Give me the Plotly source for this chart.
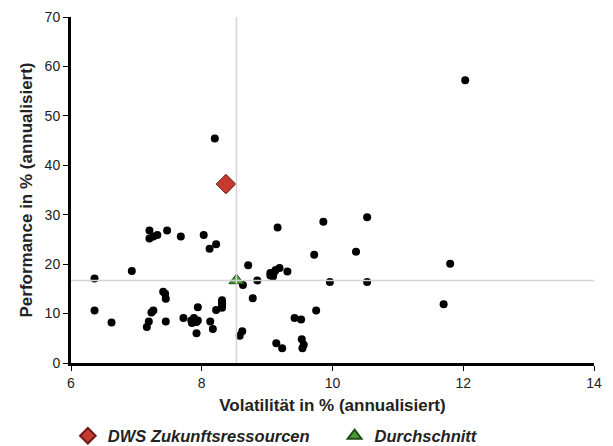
import plotly.graph_objects as go

# Peer funds: volatility (x) and performance (y)
peer_vol = [12.03, 8.20, 10.53, 9.86, 9.16, 7.20, 7.47, 7.20, 7.26, 7.32, 7.68, 8.03, 8.22, 8.12,
            10.36, 9.72, 11.80, 8.71, 6.93, 9.31, 9.19, 9.13, 9.05, 9.05, 9.09, 9.11, 6.36, 8.85,
            9.96, 10.53, 8.63, 7.41, 7.44, 7.45, 8.78, 8.31, 8.31, 8.31, 8.31, 8.22, 7.94, 6.36,
            7.26, 7.23, 9.75, 11.70, 9.42, 9.52, 7.72, 7.88, 7.84, 7.94, 7.85, 7.92, 7.19, 7.45,
            8.13, 6.62, 7.16, 8.17, 7.92, 8.62, 8.58, 9.53, 9.56, 9.54, 9.14, 9.23]
peer_perf = [57.2, 45.4, 29.5, 28.6, 27.4, 26.8, 26.8, 25.2, 25.6, 25.9, 25.6, 25.9, 24.0, 23.1,
             22.5, 21.9, 20.1, 19.8, 18.6, 18.5, 19.2, 18.8, 18.2, 17.7, 17.5, 18.4, 17.1, 16.7,
             16.4, 16.4, 15.8, 14.4, 14.0, 13.0, 13.1, 12.7, 12.1, 11.6, 11.2, 10.7, 11.3, 10.6,
             10.6, 10.2, 10.6, 11.9, 9.1, 8.8, 9.1, 9.1, 8.6, 8.6, 8.1, 8.3, 8.4, 8.4,
             8.4, 8.2, 7.3, 6.9, 6.0, 6.4, 5.5, 4.8, 3.7, 3.0, 4.0, 3.0]

fund_name = "DWS Zukunftsressourcen"
fund_vol = [8.37]
fund_perf = [36.2]

avg_name = "Durchschnitt"
avg_vol = [8.53]
avg_perf = [16.7]

x_range = [6, 14]
y_range = [0, 70]
x_ticks = [6, 8, 10, 12, 14]
y_ticks = [0, 10, 20, 30, 40, 50, 60, 70]

fig = go.Figure()
fig.add_trace(go.Scatter(x=peer_vol, y=peer_perf, mode="markers", showlegend=False,
                         marker=dict(color="black", size=8, line=dict(width=0)),
                         hoverinfo="x+y"))
fig.add_trace(go.Scatter(x=fund_vol, y=fund_perf, mode="markers", name=fund_name,
                         legend="legend",
                         marker=dict(symbol="diamond", color="#c63a32", size=15,
                                     line=dict(color="#6e1a16", width=1))))
fig.add_trace(go.Scatter(x=avg_vol, y=avg_perf, mode="markers", name=avg_name,
                         legend="legend2",
                         marker=dict(symbol="triangle-up", color="#4e9a36", size=13,
                                     line=dict(color="#1f4a16", width=1))))

# average cross lines (drawn over the markers, as in the reference)
fig.add_shape(type="line", xref="x", yref="paper", x0=avg_vol[0], x1=avg_vol[0], y0=0, y1=1,
              line=dict(color="#d4d4d4", width=1.5), layer="above")
fig.add_shape(type="line", xref="paper", yref="y", x0=0, x1=1, y0=avg_perf[0], y1=avg_perf[0],
              line=dict(color="#d4d4d4", width=1.5), layer="above")

font_family = "Liberation Sans, Arial, sans-serif"
legend_font = dict(size=16.5, style="italic", weight="bold", color="#222")
legend_common = dict(orientation="h", xanchor="left", y=-0.211, yanchor="middle",
                     font=legend_font, itemsizing="constant", bgcolor="rgba(0,0,0,0)",
                     borderwidth=0)
fig.update_layout(
    width=605, height=438,
    margin=dict(l=63, r=19, t=9, b=83, autoexpand=False),
    plot_bgcolor="white", paper_bgcolor="white",
    font=dict(family=font_family, size=14, color="#222"),
    legend=dict(x=-0.006, **legend_common),
    legend2=dict(x=0.504, **legend_common),
    xaxis=dict(range=x_range, tickvals=x_ticks, showgrid=False, zeroline=False,
               automargin=False,
               showline=True, linecolor="black", linewidth=3, ticks="outside",
               ticklen=5, tickcolor="black", tickfont=dict(size=14, color="#222"),
               title=dict(text="Volatilität in % (annualisiert)",
                          font=dict(size=17, weight="bold", color="#222"), standoff=10)),
    yaxis=dict(range=y_range, tickvals=y_ticks, showgrid=False, zeroline=False,
               automargin=False,
               showline=True, linecolor="black", linewidth=3, ticks="outside",
               ticklen=5, tickcolor="black", tickfont=dict(size=14, color="#222"),
               title=dict(text="Performance in % (annualisiert)",
                          font=dict(size=17, weight="bold", color="#222"), standoff=8)),
)

fig.write_html("out.html")
